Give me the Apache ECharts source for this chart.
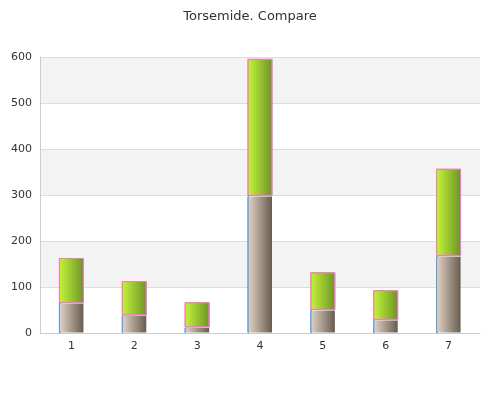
<!DOCTYPE html>
<html>
<head>
<meta charset="utf-8">
<script src="https://cdn.jsdelivr.net/npm/echarts@6/dist/echarts.min.js"></script>
<style>html,body{margin:0;padding:0;background:#fff}#main{width:500px;height:400px}</style>
</head>
<body>
<div id="main"></div>
<script>
var categories = ['1', '2', '3', '4', '5', '6', '7'];
var baseValues = [65, 38, 12, 298, 50, 28, 167];
var topValues = [98, 75, 55, 298, 82, 65, 190];

var chart = echarts.init(document.getElementById('main'));

function grad(a, b) {
  return new echarts.graphic.LinearGradient(0, 0, 1, 0, [
    { offset: 0, color: a },
    { offset: 1, color: b }
  ]);
}

// blue only on the left edge of the lower bars
var leftBlue = new echarts.graphic.LinearGradient(0, 0, 1, 0, [
  { offset: 0, color: '#5aa0e6' },
  { offset: 0.06, color: '#5aa0e6' },
  { offset: 0.07, color: 'rgba(90,160,230,0)' },
  { offset: 1, color: 'rgba(90,160,230,0)' }
]);

var option = {
  backgroundColor: '#ffffff',
  title: {
    text: 'Torsemide. Compare',
    left: 'center',
    top: 5,
    textStyle: { fontSize: 13, fontWeight: 'normal', color: '#333', fontFamily: 'DejaVu Sans' }
  },
  grid: { left: 40, right: 20, top: 57, bottom: 67 },
  xAxis: {
    type: 'category',
    data: categories,
    axisLine: { lineStyle: { color: '#ccc' } },
    axisTick: { show: false },
    axisLabel: { color: '#333', fontFamily: 'DejaVu Sans', fontSize: 11 }
  },
  yAxis: {
    type: 'value',
    min: 0,
    max: 600,
    interval: 100,
    axisLine: { show: true, lineStyle: { color: '#ccc' } },
    axisLabel: { color: '#333', fontFamily: 'DejaVu Sans', fontSize: 11 },
    splitLine: { lineStyle: { color: '#ddd' } },
    splitArea: { show: true, areaStyle: { color: ['#ffffff', '#f3f3f3'] } }
  },
  series: [
    {
      type: 'bar',
      stack: 'a',
      barWidth: 25,
      data: baseValues,
      itemStyle: { color: grad('#e3d6c8', '#665a4e'), borderColor: leftBlue, borderWidth: 1 }
    },
    {
      type: 'bar',
      stack: 'a',
      barWidth: 25,
      data: topValues,
      itemStyle: { color: grad('#c6f53a', '#6a9424'), borderColor: '#f07cc0', borderWidth: 1 }
    }
  ]
};
chart.setOption(option);
</script>
</body>
</html>
